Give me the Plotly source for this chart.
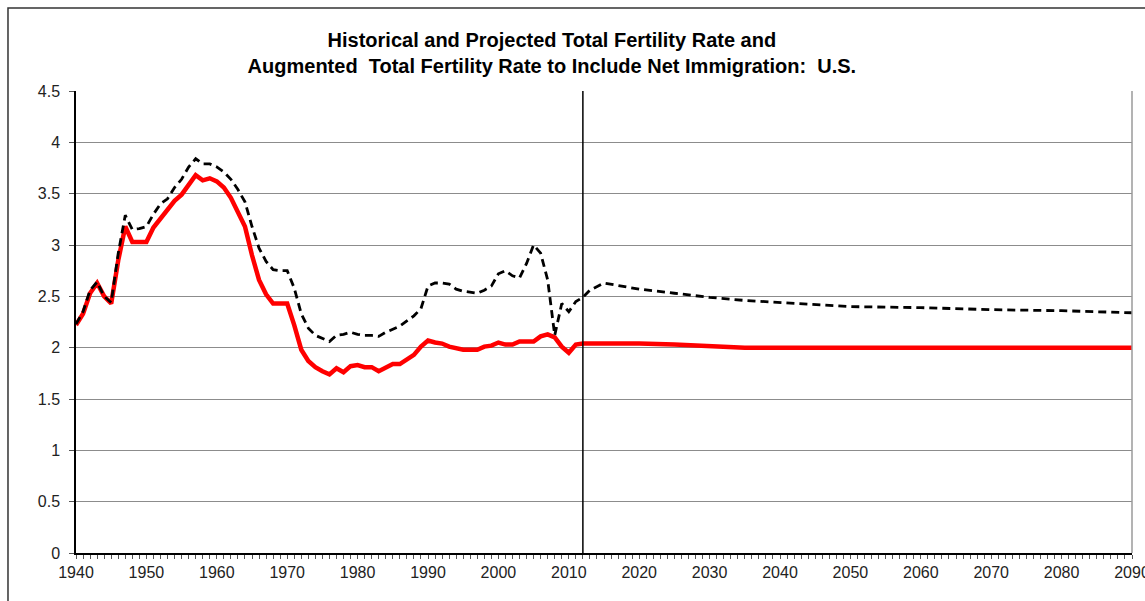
import plotly.graph_objects as go

# historical years and values
years_hist = list(range(1940, 2013))
tfr_hist = [
    2.22, 2.33, 2.53, 2.63, 2.50, 2.43, 2.85, 3.18, 3.03, 3.03,
    3.03, 3.17, 3.26, 3.35, 3.43, 3.49, 3.58, 3.68, 3.63, 3.65,
    3.62, 3.56, 3.46, 3.32, 3.18, 2.90, 2.66, 2.52, 2.43, 2.43,
    2.43, 2.22, 1.98, 1.87, 1.81, 1.77, 1.74, 1.80, 1.76, 1.82,
    1.83, 1.81, 1.81, 1.77, 1.80, 1.84, 1.84, 1.88, 1.93, 2.01,
    2.07, 2.05, 2.04, 2.01, 1.99, 1.98, 1.98, 1.98, 2.01, 2.02,
    2.05, 2.03, 2.03, 2.06, 2.06, 2.06, 2.11, 2.13, 2.10, 2.01,
    1.95, 2.03, 2.04,
]
aug_hist = [
    2.23, 2.35, 2.56, 2.64, 2.50, 2.44, 2.92, 3.29, 3.15, 3.16,
    3.18, 3.30, 3.40, 3.45, 3.56, 3.64, 3.76, 3.84, 3.79, 3.79,
    3.76, 3.71, 3.64, 3.54, 3.42, 3.18, 2.97, 2.84, 2.76, 2.75,
    2.75, 2.58, 2.33, 2.19, 2.12, 2.09, 2.06, 2.12, 2.13, 2.15,
    2.13, 2.12, 2.12, 2.11, 2.15, 2.18, 2.21, 2.26, 2.31, 2.38,
    2.60, 2.63, 2.63, 2.62, 2.57, 2.55, 2.54, 2.53, 2.56, 2.60,
    2.72, 2.75, 2.70, 2.68, 2.82, 3.00, 2.92, 2.66, 2.12, 2.43,
    2.35, 2.45, 2.49,
]

# projection
years_proj = [2013, 2015, 2020, 2025, 2030, 2035, 2040, 2050, 2060, 2070, 2080, 2090]
tfr_proj = [2.04, 2.05, 2.04, 2.03, 2.01, 2.00, 2.00, 2.00, 2.00, 2.00, 2.00, 2.00]
aug_proj = [2.56, 2.63, 2.57, 2.53, 2.49, 2.46, 2.44, 2.40, 2.39, 2.37, 2.36, 2.34]

split_year = 2012
y_ticks = [0, 0.5, 1, 1.5, 2, 2.5, 3, 3.5, 4, 4.5]
x_ticks = list(range(1940, 2091, 10))

years = years_hist + years_proj
tfr = tfr_hist + tfr_proj
aug = aug_hist + aug_proj

fig = go.Figure()

# TFR (red, solid)
fig.add_trace(go.Scatter(
    x=years, y=tfr, mode='lines', name='TFR',
    line=dict(color='#ff0000', width=4.5),
))

# augmented TFR (black, dashed)
fig.add_trace(go.Scatter(
    x=years, y=aug, mode='lines', name='Augmented TFR',
    line=dict(color='black', width=2.8, dash='8px,5px'),
))

# history / projection divider
fig.add_shape(type='line', x0=split_year, x1=split_year, y0=0, y1=4.5,
              xref='x', yref='y', line=dict(color='black', width=1.5))

# plot area right border
fig.add_shape(type='line', x0=1, x1=1, y0=0, y1=1, xref='paper', yref='paper',
              line=dict(color='#9a9a9a', width=1.5))

# outer chart frame
fig.add_shape(type='rect', x0=-0.0644, x1=1.03, y0=-0.2, y1=1.1797,
              xref='paper', yref='paper', line=dict(color='#333333', width=1.5),
              layer='below')

fig.update_layout(
    width=1145, height=601,
    margin=dict(l=76, r=13, t=91, b=48),
    paper_bgcolor='white', plot_bgcolor='white',
    showlegend=False,
    font=dict(family='Liberation Sans, Arial, sans-serif', size=16, color='#222222'),
    title=dict(
        text='<b>Historical and Projected Total Fertility Rate and<br>'
             'Augmented  Total Fertility Rate to Include Net Immigration:  U.S.</b>',
        x=0.482, xref='container', xanchor='center',
        y=0.922, yref='container', yanchor='middle',
        font=dict(size=20, color='black'),
    ),
)

fig.update_xaxes(
    range=[1940, 2090], tickvals=x_ticks,
    showgrid=False, zeroline=False, automargin=False,
    showline=True, linecolor='black', linewidth=1.5,
    ticks='outside', ticklen=4, tickcolor='#555555',
    ticklabeloverflow='allow',
    minor=dict(dtick=1, tick0=1940, ticks='outside', ticklen=4, tickcolor='#555555', showgrid=False),
)

fig.update_yaxes(
    range=[0, 4.5], tickvals=y_ticks,
    showgrid=True, gridcolor='#8c8c8c', gridwidth=1,
    zeroline=False, automargin=False,
    showline=True, linecolor='black', linewidth=1.5,
    ticks='outside', ticklen=5, tickcolor='#555555',
    ticklabelstandoff=6,
)

fig.write_html("out.html", config={'displayModeBar': False},
               post_script="document.body.style.margin='0';")
